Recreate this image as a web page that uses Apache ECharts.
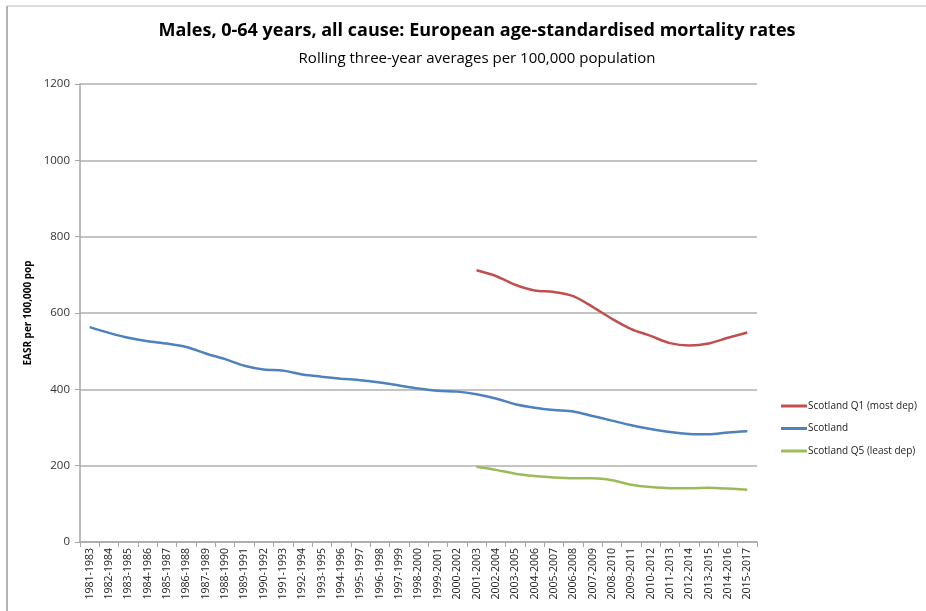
<!DOCTYPE html>
<html lang="en">
<head>
    <meta charset="UTF-8">
    <title>Males 0-64 mortality</title>
    <script src="https://cdn.jsdelivr.net/npm/echarts@6/dist/echarts.min.js"></script>
    <style>
        html, body { margin: 0; padding: 0; background: #fff; }
        #main { width: 926px; height: 611px; }
    </style>
</head>
<body>
<div id="main"></div>
<script type="text/javascript">
    // periods on the x axis
    var periods = [
        '1981-1983', '1982-1984', '1983-1985', '1984-1986', '1985-1987', '1986-1988',
        '1987-1989', '1988-1990', '1989-1991', '1990-1992', '1991-1993', '1992-1994',
        '1993-1995', '1994-1996', '1995-1997', '1996-1998', '1997-1999', '1998-2000',
        '1999-2001', '2000-2002', '2001-2003', '2002-2004', '2003-2005', '2004-2006',
        '2005-2007', '2006-2008', '2007-2009', '2008-2010', '2009-2011', '2010-2012',
        '2011-2013', '2012-2014', '2013-2015', '2014-2016', '2015-2017'
    ];

    // EASR per 100,000
    var scotland = [
        563, 548, 535, 526, 520, 511, 494, 479, 462, 452, 449, 439,
        433, 428, 424, 418, 410, 402, 396, 394, 387, 376, 361, 352,
        346, 342, 330, 318, 306, 296, 288, 283, 282, 287, 290
    ];
    var q1 = [
        null, null, null, null, null, null, null, null, null, null, null, null,
        null, null, null, null, null, null, null, null,
        712, 697, 674, 659, 655, 644, 616, 585, 558, 540, 521, 515, 520, 535, 549
    ];
    var q5 = [
        null, null, null, null, null, null, null, null, null, null, null, null,
        null, null, null, null, null, null, null, null,
        197, 189, 179, 173, 169, 167, 167, 162, 150, 144, 141, 141, 142, 140, 137
    ];

    var chart = echarts.init(document.getElementById('main'));
    var font = 'Open Sans';

    var option = {
        backgroundColor: '#fff',
        animation: false,
        title: [{
            text: 'Males, 0-64 years, all cause: European age-standardised mortality rates',
            left: 472,
            top: 17,
            textAlign: 'center',
            textStyle: { fontFamily: font, fontWeight: 'bold', fontSize: 18, color: '#000' }
        }, {
            text: 'Rolling three-year averages per 100,000 population',
            left: 472,
            top: 46,
            textAlign: 'center',
            textStyle: { fontFamily: font, fontWeight: 'normal', fontSize: 15, color: '#000' }
        }],
        graphic: [
            { type: 'line', shape: { x1: 7, y1: 6, x2: 926, y2: 6 }, style: { stroke: '#d0d0d0', lineWidth: 1.5 } },
            { type: 'line', shape: { x1: 7, y1: 6, x2: 7, y2: 611 }, style: { stroke: '#999', lineWidth: 1.5 } }
        ],
        legend: {
            orient: 'vertical',
            left: 776,
            top: 396,
            icon: 'rect',
            itemWidth: 26,
            itemHeight: 3,
            itemGap: 12.5,
            data: ['Scotland Q1 (most dep)', 'Scotland', 'Scotland Q5 (least dep)'],
            textStyle: { fontFamily: font, fontSize: 10, color: '#222', padding: [0, 0, 0, -4] }
        },
        grid: { left: 80, right: 169, top: 84, bottom: 69 },
        xAxis: {
            type: 'category',
            data: periods,
            boundaryGap: true,
            axisLine: { lineStyle: { color: '#a6a6a6', width: 1.5 } },
            axisTick: { show: true, length: 5, lineStyle: { color: '#a6a6a6' } },
            axisLabel: {
                interval: 0,
                rotate: 90,
                fontFamily: font,
                fontSize: 10.5,
                color: '#222',
                margin: 6
            }
        },
        yAxis: {
            type: 'value',
            min: 0,
            max: 1200,
            interval: 200,
            name: 'EASR per 100,000 pop',
            nameLocation: 'middle',
            nameGap: 32,
            nameTextStyle: { fontFamily: font, fontWeight: 'bold', fontSize: 10, color: '#000' },
            axisLine: { show: true, lineStyle: { color: '#a6a6a6', width: 1.5 } },
            axisTick: { show: true, length: 5, lineStyle: { color: '#a6a6a6' } },
            axisLabel: {
                fontFamily: font, fontSize: 11.5, color: '#333', margin: 10,
                formatter: function (v) { return String(v); }
            },
            splitLine: { lineStyle: { color: '#b0b0b0', width: 1.5 } }
        },
        series: [{
            name: 'Scotland Q1 (most dep)',
            type: 'line',
            data: q1,
            symbol: 'none',
            smooth: 0.3,
            color: '#c0504d',
            lineStyle: { width: 2.5 }
        }, {
            name: 'Scotland',
            type: 'line',
            data: scotland,
            symbol: 'none',
            smooth: 0.3,
            color: '#4f81bd',
            lineStyle: { width: 2.5 }
        }, {
            name: 'Scotland Q5 (least dep)',
            type: 'line',
            data: q5,
            symbol: 'none',
            smooth: 0.3,
            color: '#9bbb59',
            lineStyle: { width: 2.5 }
        }]
    };

    chart.setOption(option);
</script>
</body>
</html>
